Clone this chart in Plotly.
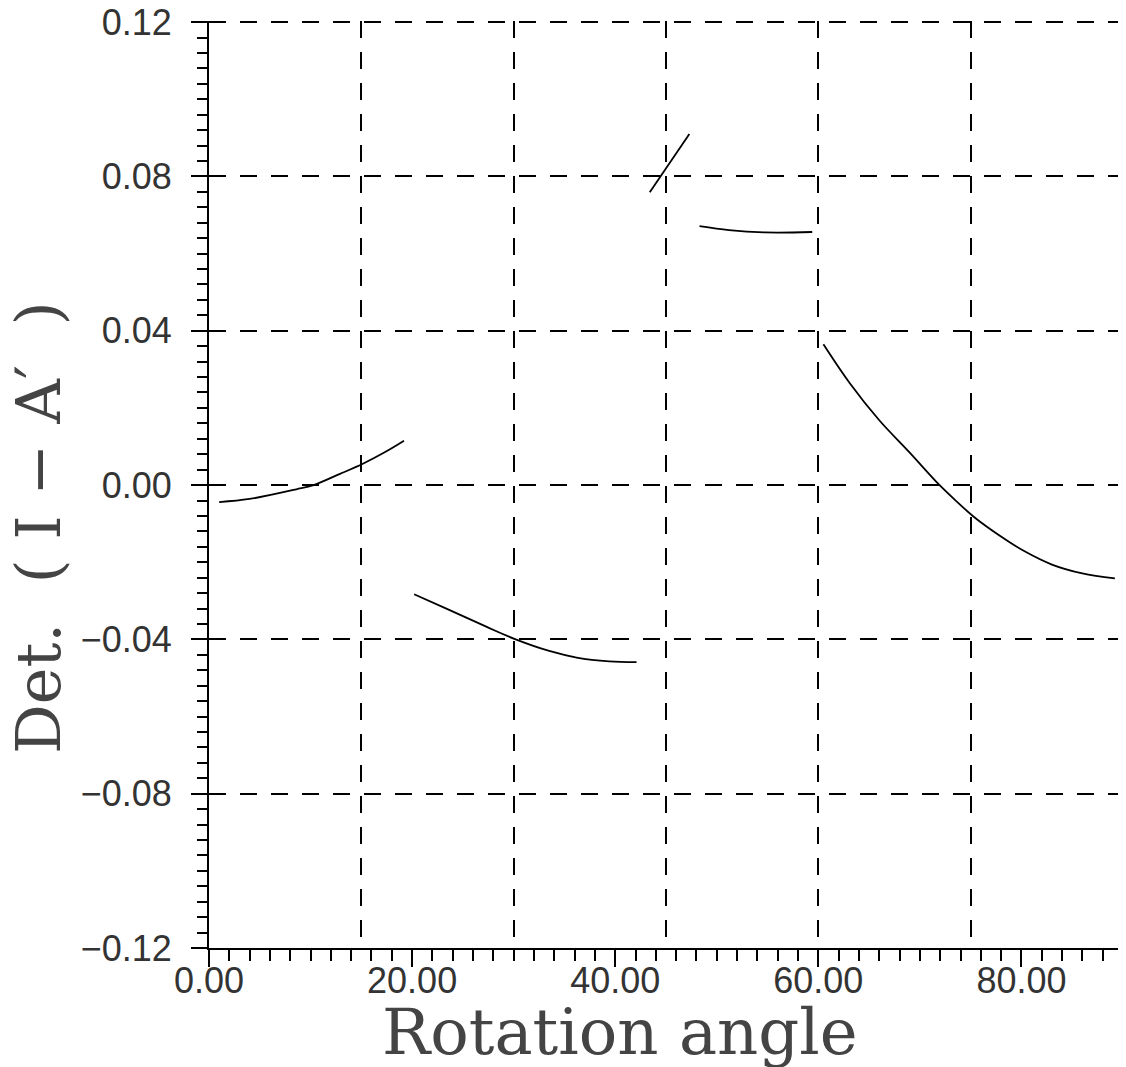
import plotly.graph_objects as go

# Data
seg1_x = [1.0, 4.0, 8.6, 10.3, 12.9, 15.2, 17.3, 19.2]
seg1_y = [-0.0044, -0.0036, -0.0011, 0.0, 0.0029, 0.0056, 0.0085, 0.0115]

seg2_x = [20.2, 23.7, 27.3, 30.2, 33.5, 36.2, 39.4, 42.1]
seg2_y = [-0.0283, -0.0324, -0.0367, -0.0400, -0.0430, -0.0447, -0.0457, -0.0459]

seg3_x = [43.4, 47.3]
seg3_y = [0.0759, 0.0910]

seg4_x = [48.3, 51.2, 54.8, 59.4]
seg4_y = [0.0671, 0.0661, 0.0655, 0.0656]

seg5_x = [60.5, 63.1, 66.0, 69.0, 71.6, 73.4, 75.3, 77.8, 80.4, 83.0, 86.0, 89.2]
seg5_y = [0.0365, 0.0264, 0.0168, 0.0084, 0.0009, -0.0037, -0.0082, -0.0130,
          -0.0173, -0.0206, -0.0229, -0.0242]

x_tickvals = [0, 20, 40, 60, 80]
x_ticktext = ["0.00", "20.00", "40.00", "60.00", "80.00"]
y_tickvals = [-0.12, -0.08, -0.04, 0.0, 0.04, 0.08, 0.12]
y_ticktext = ["\u22120.12", "\u22120.08", "\u22120.04", "0.00", "0.04", "0.08", "0.12"]
x_title = "Rotation angle"
y_title = "Det.\u00a0\u00a0(\u00a0I\u00a0\u2212\u00a0A\u2032\u00a0\u00a0)"

fig = go.Figure()
for sx, sy in [(seg1_x, seg1_y), (seg2_x, seg2_y), (seg3_x, seg3_y),
               (seg4_x, seg4_y), (seg5_x, seg5_y)]:
    fig.add_trace(go.Scatter(x=sx, y=sy, mode="lines",
                             line=dict(color="black", width=1.8, shape="spline"),
                             showlegend=False, hoverinfo="skip"))

# empty trace to activate the grid axis (every 15 degrees)
fig.add_trace(go.Scatter(x=[None], y=[None], xaxis="x2", mode="lines", showlegend=False))

tick_font = dict(family="Liberation Sans", size=36, color="#333")
grid_dash = "17px,14px"

# the page body has an 8px margin, so the figure is 8px smaller and offset
fig.update_layout(
    width=1118, height=1059,
    margin=dict(l=201, r=3, t=13, b=119, autoexpand=False),
    paper_bgcolor="white", plot_bgcolor="white",
    xaxis=dict(range=[0, 90], tickvals=x_tickvals, ticktext=x_ticktext, automargin=False,
               showgrid=False, zeroline=False, showline=True, linecolor="black", linewidth=2,
               ticks="outside", ticklen=17, tickwidth=1.5, tickcolor="black",
               minor=dict(dtick=2, tick0=0, ticks="outside", ticklen=11, tickwidth=1.5, tickcolor="black"),
               tickfont=tick_font, ticklabelstandoff=-17, ticklabeloverflow="allow"),
    xaxis2=dict(range=[0, 90], overlaying="x", side="bottom", dtick=15, tick0=0, automargin=False,
                showgrid=True, gridcolor="black", gridwidth=1.6, griddash=grid_dash,
                showticklabels=False, ticks="", zeroline=False, showline=False),
    yaxis=dict(range=[-0.12, 0.1203], tickvals=y_tickvals, ticktext=y_ticktext, automargin=False,
               showgrid=True, gridcolor="black", gridwidth=1.6, griddash=grid_dash,
               zeroline=False, showline=True, linecolor="black", linewidth=2,
               ticks="outside", ticklen=16, tickwidth=1.5, tickcolor="black",
               minor=dict(dtick=0.004, tick0=0, ticks="outside", ticklen=10, tickwidth=1.5, tickcolor="black"),
               tickfont=tick_font, ticklabelstandoff=12, ticklabeloverflow="allow"),
    annotations=[
        dict(text=x_title, xref="paper", yref="paper", x=(620 - 209) / 914, y=-(1032 - 948) / 927,
             xanchor="center", yanchor="middle", showarrow=False,
             font=dict(family="DejaVu Serif", size=64, color="#444")),
        dict(text=y_title, xref="paper", yref="paper", x=-(209 - 38) / 914, y=(948 - 528) / 927,
             xanchor="center", yanchor="middle", showarrow=False, textangle=-90,
             font=dict(family="DejaVu Serif", size=62, color="#444")),
    ],
)

fig.write_html("out.html")
